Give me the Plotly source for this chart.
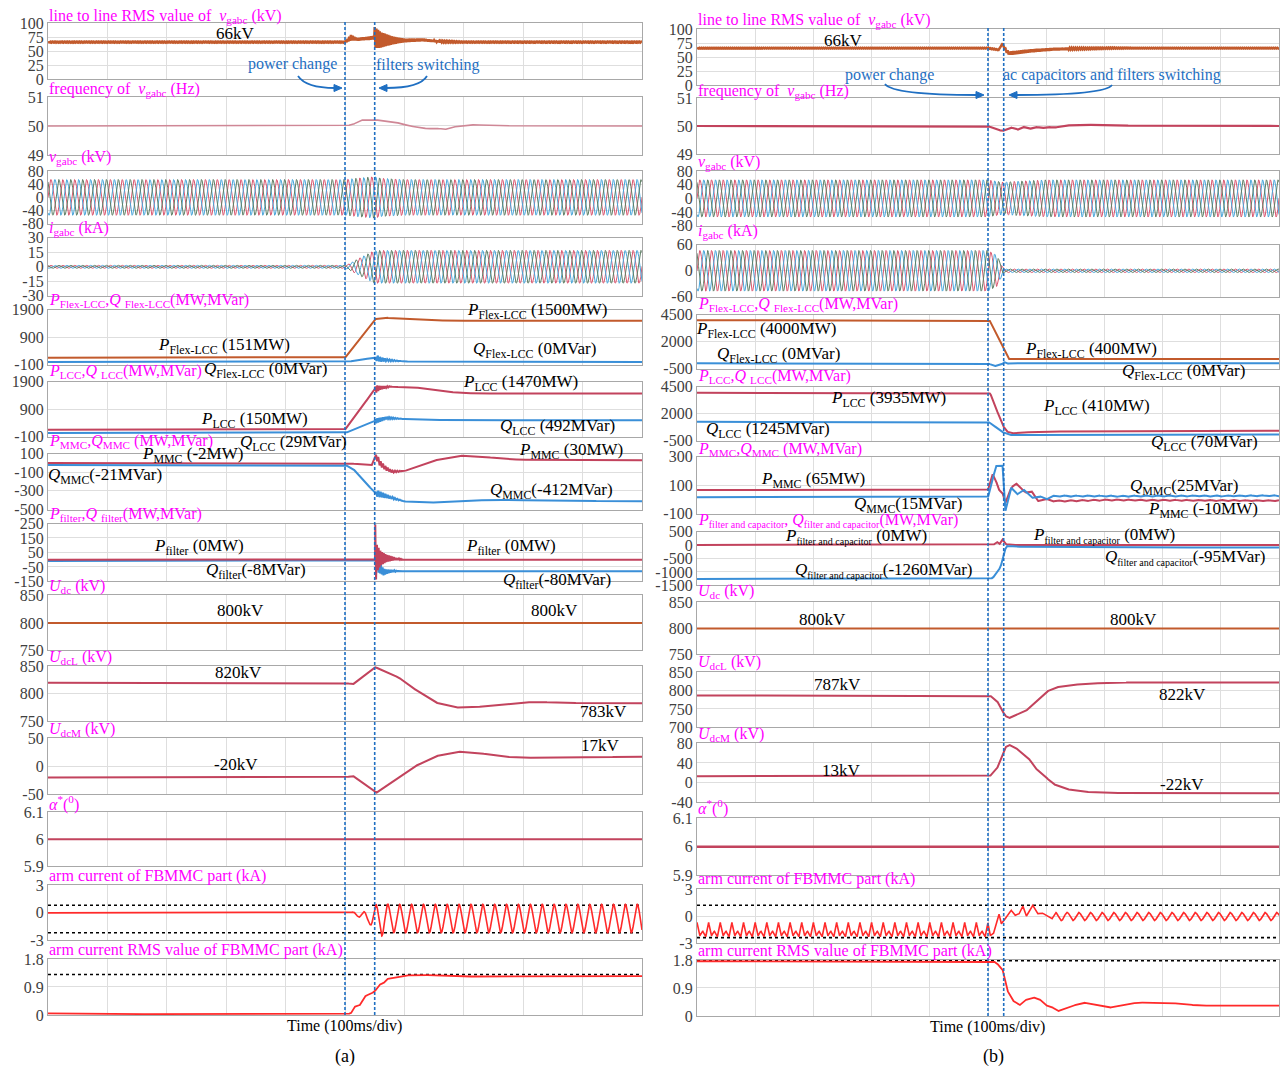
import numpy as np
import plotly.graph_objects as go

W, H = 1286, 1074
# vertical placement of the page as it is displayed: top offset and vertical squeeze
V_OFF = 8.0
V_SCALE = 1074.0 / 1090.0
SERIF = "Liberation Serif"

# ---------------------------------------------------------------- time base
t = np.linspace(0.0, 1.0, 6001)          # 1 s window, 100 ms/div
F_GRID = 50.0                            # Hz

EVENTS_A = [0.5, 0.55]                   # power change, filter switching
EVENTS_B = [0.5, 0.527]                  # power change, capacitor/filter switching

# ======================================================== case (a) data
A_RMS_T = [0, 0.5, 0.51, 0.52, 0.54, 0.55, 0.56, 0.58, 0.6, 0.63, 0.66, 0.7, 1.0]
A_RMS_V = [66, 66, 74, 71, 73, 74, 70, 69, 69, 70, 67, 66, 66]
A_RMS_RIP_T = [0, 0.5, 0.505, 0.51, 0.52, 0.549, 0.55, 0.56, 0.58, 0.6, 0.65, 0.7, 1.0]
A_RMS_RIP_A = [0.8, 0.8, 3, 5, 2, 3, 19, 14, 7, 3, 1.5, 0.8, 0.8]

A_FREQ_T = [0, 0.5, 0.513, 0.527, 0.548, 0.576, 0.594, 0.608, 0.625, 0.639, 0.653, 0.667,
            0.681, 0.695, 0.716, 0.737, 0.793, 1.0]
A_FREQ_V = [50, 50, 50.05, 50.2, 50.22, 50.15, 50.09, 50.0, 49.96, 49.9, 49.93, 49.87,
            49.96, 50.0, 50.04, 50.03, 50.0, 50.0]

A_VG_ENV_T = [0, 0.5, 0.52, 0.55, 0.56, 0.6, 1.0]
A_VG_ENV_A = [54, 54, 58, 63, 58, 54, 54]
A_IG_ENV_T = [0, 0.5, 0.55, 1.0]
A_IG_ENV_A = [1.5, 1.5, 17, 17]

A_PFLEX_T = [0, 0.5, 0.55, 0.569, 0.618, 0.688, 1.0]
A_PFLEX_V = [151, 151, 1560, 1610, 1535, 1500, 1500]
A_QFLEX_T = [0, 0.5, 0.53, 0.55, 0.56, 0.58, 0.6, 0.65, 1.0]
A_QFLEX_V = [0, 0, 80, 170, 90, 50, 20, 0, 0]
A_QFLEX_RIP_T = [0, 0.551, 0.553, 0.57, 0.6]
A_QFLEX_RIP_A = [0, 0, 110, 40, 0]

A_PLCC_T = [0, 0.5, 0.55, 0.56, 0.576, 0.6, 0.62, 0.653, 0.688, 0.723, 0.8, 1.0]
A_PLCC_V = [150, 150, 1620, 1680, 1720, 1700, 1690, 1580, 1500, 1465, 1480, 1470]
A_PLCC_RIP_T = [0, 0.549, 0.552, 0.56, 0.58]
A_PLCC_RIP_A = [0, 0, 140, 60, 0]
A_QLCC_T = [0, 0.5, 0.54, 0.55, 0.57, 0.6, 0.65, 1.0]
A_QLCC_V = [29, 29, 380, 460, 580, 545, 505, 492]
A_QLCC_RIP_T = [0, 0.549, 0.552, 0.57, 0.6]
A_QLCC_RIP_A = [0, 0, 90, 40, 0]

A_PMMC_T = [0, 0.5, 0.527, 0.545, 0.552, 0.559, 0.569, 0.58, 0.601, 0.618, 0.653, 0.695,
            0.723, 0.758, 0.793, 1.0]
A_PMMC_V = [-2, -2, -17, -24, 75, -5, -60, -94, -85, -48, 30, 78, 72, 48, 35, 30]
A_QMMC_T = [0, 0.5, 0.513, 0.527, 0.541, 0.55, 0.569, 0.59, 0.6, 0.639, 0.688, 0.758, 0.85, 1.0]
A_QMMC_V = [-21, -21, -60, -150, -255, -320, -355, -395, -412, -430, -405, -396, -405, -412]
A_MMC_RIP_T = [0, 0.551, 0.554, 0.575, 0.6]
A_MMC_RIP_A = [0, 0, 35, 15, 0]

A_PFIL_T = [0, 0.55, 0.553, 0.58, 0.6, 1.0]
A_PFIL_V = [0, 0, 10, 8, 0, 0]
A_PFIL_RIP_T = [0, 0.5505, 0.551, 0.553, 0.56, 0.57, 0.585, 0.6]
A_PFIL_RIP_A = [0, 0, 240, 100, 50, 25, 8, 0]
A_QFIL_T = [0, 0.55, 0.552, 0.556, 0.565, 0.58, 0.6, 1.0]
A_QFIL_V = [-8, -8, 10, -50, -85, -78, -80, -80]
A_QFIL_RIP_T = [0, 0.552, 0.555, 0.57, 0.59]
A_QFIL_RIP_A = [0, 0, 40, 15, 0]

A_UDC_T = [0, 1.0]
A_UDC_V = [800, 800]
A_UDCL_T = [0, 0.5, 0.513, 0.55, 0.59, 0.618, 0.653, 0.688, 0.723, 0.793, 0.83, 0.9, 1.0]
A_UDCL_V = [820, 820, 817, 849, 830, 808, 784, 775, 776, 784, 785, 783, 783]
A_UDCM_T = [0, 0.5, 0.513, 0.552, 0.59, 0.618, 0.653, 0.688, 0.723, 0.758, 0.793, 0.86, 1.0]
A_UDCM_V = [-20, -20, -17, -48, -20, 0, 18, 26, 24, 18, 15, 16, 17]
A_ALPHA_T = [0, 1.0]
A_ALPHA_V = [6, 6]

A_ARM_T = [0, 0.5, 0.512, 0.522, 0.532, 0.542, 0.552, 0.562, 0.58, 1.0]
A_ARM_OFFSET = [-0.03, -0.03, 0, -0.15, -0.45, -0.6, -0.7, -0.8, -0.65, -0.65]
A_ARM_AMP = [0, 0, 0.05, 0.3, 0.55, 0.7, 1.6, 1.75, 1.55, 1.55]
A_ARM_PEAK = 0.552
A_ARM_LIMITS = [0.8, -2.2]

A_ARMRMS_T = [0, 0.2, 0.4, 0.5, 0.51, 0.515, 0.52, 0.525, 0.53, 0.535, 0.54, 0.545, 0.55,
              0.555, 0.56, 0.565, 0.57, 0.575, 0.58, 0.59, 0.6, 0.62, 0.65, 0.7, 0.75, 0.8, 0.9, 1.0]
A_ARMRMS_V = [0.05, 0.02, 0.04, 0.03, 0.05, 0.25, 0.3, 0.32, 0.5, 0.62, 0.65, 0.7, 0.75,
              0.9, 1.0, 1.02, 1.15, 1.17, 1.2, 1.22, 1.27, 1.29, 1.28, 1.24, 1.23, 1.24, 1.25, 1.25]
A_ARMRMS_LIMIT = 1.3

# ======================================================== case (b) data
B_RMS_T = [0, 0.5, 0.518, 0.525, 0.53, 0.536, 0.547, 0.561, 0.582, 0.61, 0.645, 0.716, 1.0]
B_RMS_V = [66, 66, 63, 75, 62, 57, 58, 60, 62, 64, 65, 66, 66]
B_RMS_RIP_T = [0, 0.527, 0.53, 0.6, 0.7, 0.75, 1.0]
B_RMS_RIP_A = [0.8, 0.8, 3, 2, 1, 0.8, 0.8]

B_FREQ_T = [0, 0.5, 0.511, 0.525, 0.539, 0.55, 0.561, 0.571, 0.582, 0.592, 0.603, 0.614,
            0.631, 0.652, 0.681, 0.716, 0.786, 1.0]
B_FREQ_V = [50, 50, 49.9, 49.82, 49.95, 49.86, 49.97, 49.89, 49.97, 49.92, 49.97, 49.94,
            50.01, 50.04, 50.04, 50.02, 50.0, 50.0]

B_VG_ENV_T = [0, 0.5, 0.527, 0.55, 0.6, 1.0]
B_VG_ENV_A = [54, 54, 47, 50, 54, 54]
B_IG_ENV_T = [0, 0.5, 0.515, 0.527, 1.0]
B_IG_ENV_A = [47, 47, 36, 4, 4]

B_PFLEX_T = [0, 0.5, 0.503, 0.535, 1.0]
B_PFLEX_V = [4000, 4000, 3950, 400, 400]
B_QFLEX_T = [0, 0.5, 0.505, 0.512, 0.52, 0.526, 0.528, 0.533, 0.54, 1.0]
B_QFLEX_V = [0, 0, -120, -250, -150, -20, 120, -40, 0, 0]

B_PLCC_T = [0, 0.5, 0.504, 0.511, 0.518, 0.525, 0.532, 0.54, 0.56, 0.6, 0.7, 1.0]
B_PLCC_V = [3935, 3935, 3850, 2950, 1880, 950, 350, 180, 250, 330, 400, 410]
B_QLCC_T = [0, 0.5, 0.508, 0.518, 0.525, 0.536, 0.554, 0.582, 0.61, 1.0]
B_QLCC_V = [1245, 1245, 1000, 540, 290, 40, -10, 40, 60, 70]

B_PMMC_T = [0, 0.5, 0.508, 0.513, 0.518, 0.525, 0.53, 0.534, 0.54, 0.548, 0.557, 0.564,
            0.575, 0.585, 0.6, 0.61, 0.7, 1.0]
B_PMMC_V = [65, 65, 175, 140, 70, 46, -25, 22, 81, 112, 81, 46, 57, -13, 4, -13, -5, -10]
B_QMMC_T = [0, 0.5, 0.506, 0.513, 0.525, 0.53, 0.54, 0.55, 0.561, 0.575, 0.589, 0.6, 0.61, 0.7, 1.0]
B_QMMC_V = [15, 15, 100, 234, 235, -80, 81, 34, 69, 10, 22, -1, 22, 22, 25]
B_MMC_RIP_T = [0, 0.6, 0.62, 1.0]
B_MMC_RIP_A = [0, 0, 5, 4]

B_PFIL_T = [0, 0.5, 0.51, 0.515, 0.52, 0.525, 0.53, 0.54, 1.0]
B_PFIL_V = [0, 0, 20, 120, 40, 200, 30, 0, 0]
B_QFIL_T = [0, 0.5, 0.508, 0.515, 0.522, 0.527, 0.532, 0.54, 0.6, 1.0]
B_QFIL_V = [-1260, -1260, -1225, -1040, -800, -300, -30, -55, -80, -95]

B_UDC_T = [0, 1.0]
B_UDC_V = [800, 800]
B_UDCL_T = [0, 0.5, 0.504, 0.515, 0.522, 0.529, 0.536, 0.547, 0.564, 0.575, 0.585, 0.6,
            0.617, 0.638, 0.68, 0.751, 1.0]
B_UDCL_V = [787, 787, 786, 773, 755, 732, 725, 732, 743, 759, 773, 797, 809, 815, 820, 823, 822]
B_UDCM_T = [0, 0.5, 0.504, 0.515, 0.522, 0.529, 0.536, 0.547, 0.558, 0.569, 0.58, 0.594,
            0.612, 0.634, 0.662, 0.718, 0.82, 1.0]
B_UDCM_V = [13, 13, 14, 27, 48, 71, 77, 71, 61, 51, 31, 17, -3, -13, -19, -21, -22, -22]
B_ALPHA_T = [0, 1.0]
B_ALPHA_V = [6, 6]

B_ARM_PRE_SHAPE = [-0.7, -1.6, -2.2, -1.8, -1.7, -2.0, -2.3, -1.6]   # one 20 ms cycle
B_ARM_TRANS_T = [0.5, 0.504, 0.509, 0.516, 0.519, 0.523, 0.528, 0.535, 0.54, 0.546, 0.553,
                 0.56, 0.566, 0.577, 0.585, 0.593, 0.602, 0.61, 0.616]
B_ARM_TRANS_V = [-0.85, -2.15, -2.0, -0.67, 0.2, -0.85, -0.5, 0.26, 0.63, 0.07, 0.2,
                 1.1, 0.0, 1.2, 0.26, 0.35, 0.0, -0.3, 0.4]
B_ARM_POST_OFFSET = -0.05
B_ARM_POST_AMP = 0.45
B_ARM_POST_PEAK = 0.616
B_ARM_LIMITS = [1.2, -2.4]

B_ARMRMS_T = [0, 0.5, 0.51, 0.515, 0.52, 0.525, 0.532, 0.542, 0.554, 0.563, 0.577, 0.588,
              0.599, 0.609, 0.62, 0.637, 0.665, 0.687, 0.708, 0.729, 0.757, 0.8, 0.827, 0.863, 1.0]
B_ARMRMS_V = [1.76, 1.76, 1.75, 1.7, 1.6, 1.5, 0.87, 0.5, 0.34, 0.5, 0.6, 0.55,
              0.34, 0.3, 0.15, 0.28, 0.43, 0.35, 0.26, 0.35, 0.43, 0.43, 0.4, 0.33, 0.33]
B_ARMRMS_LIMIT = 1.78

# ---------------------------------------------------------------- colours
C_RUST = "#c25a2c"
C_ROSE = "#c2435d"
C_BLUE = "#3a8fd8"
C_FREQ_A = "#cf8796"
C_ARM = "#ff2a2a"
C_PH = ["#d9566f", "#4aa6da", "#5f7f66"]
C_EVENT = "#1f6fc2"
C_MAG = "#ff00ff"


# ---------------------------------------------------------------- helpers
def keyed(kt, kv):
    return np.interp(t, kt, kv)


def rippled(kt, kv, rt, ra, freq, t0):
    return keyed(kt, kv) + np.interp(t, rt, ra) * np.cos(2 * np.pi * freq * (t - t0))


def three_phase(et, ea):
    amp = np.interp(t, et, ea)
    return [amp * np.sin(2 * np.pi * F_GRID * t - k * 2 * np.pi / 3) for k in range(3)]


def tiled(shape, period):
    ph = (t % period) / period
    xs = np.linspace(0, 1, len(shape) + 1)
    return np.interp(ph, xs, list(shape) + [shape[0]])


# case (a) arm current
a_arm = keyed(A_ARM_T, A_ARM_OFFSET) + keyed(A_ARM_T, A_ARM_AMP) * np.cos(
    2 * np.pi * F_GRID * (t - A_ARM_PEAK))
# case (b) arm current
b_arm_pre = tiled(B_ARM_PRE_SHAPE, 1 / F_GRID)
b_arm_trans = np.interp(t, B_ARM_TRANS_T, B_ARM_TRANS_V)
b_arm_post = B_ARM_POST_OFFSET + B_ARM_POST_AMP * np.cos(2 * np.pi * F_GRID * (t - B_ARM_POST_PEAK))
b_arm = np.where(t < B_ARM_TRANS_T[0], b_arm_pre,
                 np.where(t <= B_ARM_TRANS_T[-1], b_arm_trans, b_arm_post))

flat = lambda v: np.full_like(t, v)

# each panel: (y range, tick values, [(y, colour, width, dash)])
PANELS_A = [
    ([0, 100], [0, 25, 50, 75, 100],
     [(rippled(A_RMS_T, A_RMS_V, A_RMS_RIP_T, A_RMS_RIP_A, 350, 0.55), C_RUST, 2.5, None)]),
    ([49, 51], [49, 50, 51], [(keyed(A_FREQ_T, A_FREQ_V), C_FREQ_A, 1.6, None)]),
    ([-80, 80], [-80, -40, 0, 40, 80],
     [(y, c, 1.0, None) for y, c in zip(three_phase(A_VG_ENV_T, A_VG_ENV_A), C_PH)]),
    ([-30, 30], [-30, -15, 0, 15, 30],
     [(y, c, 1.0, None) for y, c in zip(three_phase(A_IG_ENV_T, A_IG_ENV_A), C_PH)]),
    ([-100, 1900], [-100, 900, 1900],
     [(keyed(A_PFLEX_T, A_PFLEX_V), C_RUST, 2.0, None),
      (rippled(A_QFLEX_T, A_QFLEX_V, A_QFLEX_RIP_T, A_QFLEX_RIP_A, 250, 0.551), C_BLUE, 2.0, None)]),
    ([-100, 1900], [-100, 900, 1900],
     [(rippled(A_PLCC_T, A_PLCC_V, A_PLCC_RIP_T, A_PLCC_RIP_A, 300, 0.551), C_ROSE, 2.0, None),
      (rippled(A_QLCC_T, A_QLCC_V, A_QLCC_RIP_T, A_QLCC_RIP_A, 300, 0.551), C_BLUE, 2.0, None)]),
    ([-500, 100], [-500, -300, -100, 100],
     [(rippled(A_PMMC_T, A_PMMC_V, A_MMC_RIP_T, A_MMC_RIP_A, 250, 0.552), C_ROSE, 2.0, None),
      (rippled(A_QMMC_T, A_QMMC_V, A_MMC_RIP_T, A_MMC_RIP_A, 250, 0.552), C_BLUE, 2.0, None)]),
    ([-150, 250], [-150, -50, 50, 150, 250],
     [(rippled(A_QFIL_T, A_QFIL_V, A_QFIL_RIP_T, A_QFIL_RIP_A, 350, 0.552), C_BLUE, 2.0, None),
      (rippled(A_PFIL_T, A_PFIL_V, A_PFIL_RIP_T, A_PFIL_RIP_A, 350, 0.551), C_ROSE, 2.0, None)]),
    ([750, 850], [750, 800, 850], [(keyed(A_UDC_T, A_UDC_V), C_RUST, 2.0, None)]),
    ([750, 850], [750, 800, 850], [(keyed(A_UDCL_T, A_UDCL_V), C_ROSE, 2.0, None)]),
    ([-50, 50], [-50, 0, 50], [(keyed(A_UDCM_T, A_UDCM_V), C_ROSE, 2.0, None)]),
    ([5.9, 6.1], [5.9, 6, 6.1], [(keyed(A_ALPHA_T, A_ALPHA_V), C_ROSE, 2.0, None)]),
    ([-3, 3], [-3, 0, 3],
     [(flat(A_ARM_LIMITS[0]), "black", 1.6, "dot"), (flat(A_ARM_LIMITS[1]), "black", 1.6, "dot"),
      (a_arm, C_ARM, 1.6, None)]),
    ([0, 1.8], [0, 0.9, 1.8],
     [(flat(A_ARMRMS_LIMIT), "black", 1.6, "dot"), (keyed(A_ARMRMS_T, A_ARMRMS_V), C_ARM, 1.8, None)]),
]

PANELS_B = [
    ([0, 100], [0, 25, 50, 75, 100],
     [(rippled(B_RMS_T, B_RMS_V, B_RMS_RIP_T, B_RMS_RIP_A, 300, 0.527), C_RUST, 2.5, None)]),
    ([49, 51], [49, 50, 51], [(keyed(B_FREQ_T, B_FREQ_V), C_ROSE, 2.2, None)]),
    ([-80, 80], [-80, -40, 0, 40, 80],
     [(y, c, 1.0, None) for y, c in zip(three_phase(B_VG_ENV_T, B_VG_ENV_A), C_PH)]),
    ([-60, 60], [-60, 0, 60],
     [(y, c, 1.0, None) for y, c in zip(three_phase(B_IG_ENV_T, B_IG_ENV_A), C_PH)]),
    ([-500, 4500], [-500, 2000, 4500],
     [(keyed(B_PFLEX_T, B_PFLEX_V), C_RUST, 2.0, None), (keyed(B_QFLEX_T, B_QFLEX_V), C_BLUE, 2.0, None)]),
    ([-500, 4500], [-500, 2000, 4500],
     [(keyed(B_PLCC_T, B_PLCC_V), C_ROSE, 2.0, None), (keyed(B_QLCC_T, B_QLCC_V), C_BLUE, 2.0, None)]),
    ([-100, 300], [-100, 100, 300],
     [(rippled(B_PMMC_T, B_PMMC_V, B_MMC_RIP_T, B_MMC_RIP_A, F_GRID, 0.6), C_ROSE, 2.0, None),
      (rippled(B_QMMC_T, B_QMMC_V, B_MMC_RIP_T, B_MMC_RIP_A, F_GRID, 0.61), C_BLUE, 2.0, None)]),
    ([-1500, 500], [-1500, -1000, -500, 0, 500],
     [(keyed(B_PFIL_T, B_PFIL_V), C_ROSE, 2.0, None), (keyed(B_QFIL_T, B_QFIL_V), C_BLUE, 2.0, None)]),
    ([750, 850], [750, 800, 850], [(keyed(B_UDC_T, B_UDC_V), C_RUST, 2.0, None)]),
    ([700, 850], [700, 750, 800, 850], [(keyed(B_UDCL_T, B_UDCL_V), C_ROSE, 2.0, None)]),
    ([-40, 80], [-40, 0, 40, 80], [(keyed(B_UDCM_T, B_UDCM_V), C_ROSE, 2.0, None)]),
    ([5.9, 6.1], [5.9, 6, 6.1], [(keyed(B_ALPHA_T, B_ALPHA_V), C_ROSE, 2.5, None)]),
    ([-3, 3], [-3, 0, 3],
     [(flat(B_ARM_LIMITS[0]), "black", 1.6, "dot"), (flat(B_ARM_LIMITS[1]), "black", 1.6, "dot"),
      (b_arm, C_ARM, 1.6, None)]),
    ([0, 1.8], [0, 0.9, 1.8],
     [(flat(B_ARMRMS_LIMIT), "black", 1.6, "dot"), (keyed(B_ARMRMS_T, B_ARMRMS_V), C_ARM, 1.8, None)]),
]

FC = '<span style="font-size:10px">filter and capacitor</span>'   # long subscript, drawn small

TITLES_A = [
    "line to line RMS value of  <i>v</i><sub>gabc</sub> (kV)",
    "frequency of  <i>v</i><sub>gabc</sub> (Hz)",
    "<i>v</i><sub>gabc</sub> (kV)",
    "<i>i</i><sub>gabc</sub> (kA)",
    "<i>P</i><sub>Flex-LCC</sub>,<i>Q</i> <sub>Flex-LCC</sub>(MW,MVar)",
    "<i>P</i><sub>LCC</sub>,<i>Q</i> <sub>LCC</sub>(MW,MVar)",
    "<i>P</i><sub>MMC</sub>,<i>Q</i><sub>MMC</sub> (MW,MVar)",
    "<i>P</i><sub>filter</sub>,<i>Q</i> <sub>filter</sub>(MW,MVar)",
    "<i>U</i><sub>dc</sub> (kV)",
    "<i>U</i><sub>dcL</sub> (kV)",
    "<i>U</i><sub>dcM</sub> (kV)",
    "<i>α</i><sup>*</sup>(<sup>0</sup>)",
    "arm current of FBMMC part (kA)",
    "arm current RMS value of FBMMC part (kA)",
]
TITLES_B = list(TITLES_A)
TITLES_B[7] = "<i>P</i><sub>%s</sub>, <i>Q</i><sub>%s</sub>(MW,MVar)" % (FC, FC)

NOTES_A = [
    ("66kV", 235, 33), ("<i>P</i><sub>Flex-LCC</sub> (1500MW)", 537, 311),
    ("<i>P</i><sub>Flex-LCC</sub> (151MW)", 224, 346), ("<i>Q</i><sub>Flex-LCC</sub> (0MVar)", 534, 350),
    ("<i>Q</i><sub>Flex-LCC</sub> (0MVar)", 265, 370), ("<i>P</i><sub>LCC</sub> (1470MW)", 520, 383),
    ("<i>P</i><sub>LCC</sub> (150MW)", 254, 420), ("<i>Q</i><sub>LCC</sub> (492MVar)", 557, 427),
    ("<i>Q</i><sub>LCC</sub> (29MVar)", 293, 443), ("<i>P</i><sub>MMC</sub> (-2MW)", 192, 455),
    ("<i>P</i><sub>MMC</sub> (30MW)", 571, 451), ("<i>Q</i><sub>MMC</sub>(-21MVar)", 105, 476),
    ("<i>Q</i><sub>MMC</sub>(-412MVar)", 551, 491), ("<i>P</i><sub>filter</sub> (0MW)", 199, 548),
    ("<i>P</i><sub>filter</sub> (0MW)", 511, 548), ("<i>Q</i><sub>filter</sub>(-8MVar)", 256, 572),
    ("<i>Q</i><sub>filter</sub>(-80MVar)", 557, 582), ("800kV", 240, 611), ("800kV", 554, 611),
    ("820kV", 238, 673), ("783kV", 603, 712), ("-20kV", 236, 765), ("17kV", 600, 746),
]
NOTES_B = [
    ("66kV", 843, 40), ("<i>P</i><sub>Flex-LCC</sub> (4000MW)", 766, 330),
    ("<i>Q</i><sub>Flex-LCC</sub> (0MVar)", 778, 355), ("<i>P</i><sub>Flex-LCC</sub> (400MW)", 1091, 350),
    ("<i>Q</i><sub>Flex-LCC</sub> (0MVar)", 1183, 372), ("<i>P</i><sub>LCC</sub> (3935MW)", 888, 399),
    ("<i>Q</i><sub>LCC</sub> (1245MVar)", 768, 430), ("<i>P</i><sub>LCC</sub> (410MW)", 1096, 407),
    ("<i>Q</i><sub>LCC</sub> (70MVar)", 1204, 443), ("<i>P</i><sub>MMC</sub> (65MW)", 813, 480),
    ("<i>Q</i><sub>MMC</sub>(15MVar)", 908, 505), ("<i>Q</i><sub>MMC</sub>(25MVar)", 1184, 487),
    ("<i>P</i><sub>MMC</sub> (-10MW)", 1203, 510),
    ("<i>P</i><sub>%s</sub> (0MW)" % FC, 856, 537),
    ("<i>P</i><sub>%s</sub> (0MW)" % FC, 1104, 536),
    ("<i>Q</i><sub>%s</sub>(-1260MVar)" % FC, 884, 571),
    ("<i>Q</i><sub>%s</sub>(-95MVar)" % FC, 1185, 558),
    ("800kV", 822, 620), ("800kV", 1133, 620), ("787kV", 837, 685), ("822kV", 1182, 695),
    ("13kV", 842, 771), ("-22kV", 1182, 785),
]

# ---------------------------------------------------------------- page geometry (px on the page)
COL_X = [(48, 642), (697, 1279)]
TOPS = [[23, 97, 171, 238, 310, 382, 454, 524, 596, 667, 739, 813, 886, 960],
        [29, 98, 171, 245, 315, 387, 457, 532, 603, 673, 744, 819, 890, 961]]
BOTS = [[79, 155, 224, 296, 365, 437, 510, 582, 651, 722, 795, 867, 941, 1016],
        [85, 154, 226, 297, 369, 441, 514, 586, 655, 728, 803, 876, 944, 1017]]
TITLE_Y = [[11, 89, 158, 229, 301, 372, 442, 515, 587, 658, 730, 804, 877, 951],
           [20, 91, 163, 232, 305, 377, 450, 521, 592, 663, 735, 808, 880, 952]]


def px(x):
    return min(1.0, x / W)


def fig_y(y):
    return y / V_SCALE - V_OFF


def py(y, floor=None):
    fy = fig_y(y)
    if floor is not None:
        fy = max(fy, floor)
    return min(1.0, max(0.0, 1 - fy / H))


fig = go.Figure()
layout = dict(width=W, height=H, margin=dict(l=0, r=0, t=0, b=0),
              paper_bgcolor="white", plot_bgcolor="white", showlegend=False,
              font=dict(family=SERIF, color="black"))
annotations, shapes = [], []

for col, (panels, titles) in enumerate([(PANELS_A, TITLES_A), (PANELS_B, TITLES_B)]):
    x0, x1 = COL_X[col]
    for k, (yr, ticks, series) in enumerate(panels):
        n = col * 14 + k + 1
        sfx = "" if n == 1 else str(n)
        layout["xaxis" + sfx] = dict(
            domain=[px(x0), px(x1)], range=[0, 1], anchor="y" + sfx,
            tickvals=[i / 10 for i in range(1, 10)], showticklabels=False, ticks="",
            showgrid=True, gridcolor="#dedede", gridwidth=1, zeroline=False,
            showline=True, mirror=True, linecolor="#a8a8a8", linewidth=1.2)
        layout["yaxis" + sfx] = dict(
            domain=[py(BOTS[col][k]), py(TOPS[col][k])], range=yr, anchor="x" + sfx,
            tickvals=ticks, ticktext=[("%g" % v) for v in ticks], ticks="",
            tickfont=dict(family=SERIF, size=16, color="#404040"),
            showgrid=True, gridcolor="#dedede", gridwidth=1, zeroline=False,
            showline=True, mirror=True, linecolor="#a8a8a8", linewidth=1.2)
        for y, c, w, d in series:
            fig.add_trace(go.Scatter(x=t, y=y, mode="lines", xaxis="x" + sfx, yaxis="y" + sfx,
                                     line=dict(color=c, width=w, dash=d), hoverinfo="skip"))
        annotations.append(dict(text=titles[k], x=px(x0 - 1), y=py(TITLE_Y[col][k], floor=8.5),
                                xref="paper", yref="paper", xanchor="left", yanchor="middle",
                                showarrow=False, font=dict(family=SERIF, size=16, color=C_MAG)))

# event markers spanning all panels of a column
for col, (events, xa) in enumerate([(EVENTS_A, "x"), (EVENTS_B, "x15")]):
    for ev in events:
        shapes.append(dict(type="line", xref=xa, yref="paper", x0=ev, x1=ev,
                           y0=py(BOTS[col][-1]), y1=py(TOPS[col][0] - 1),
                           line=dict(color=C_EVENT, width=1.6, dash="3px,2px")))

for text, x, y in NOTES_A + NOTES_B:
    annotations.append(dict(text=text, x=px(x), y=py(y), xref="paper", yref="paper",
                            xanchor="center", yanchor="middle", showarrow=False,
                            font=dict(family=SERIF, size=17, color="black")))

# event captions with curved arrows
for text, x, y in [("power change", 292, 64), ("filters switching", 428, 65),
                   ("power change", 889, 75), ("ac capacitors and filters switching", 1112, 75)]:
    annotations.append(dict(text=text, x=px(x), y=py(y), xref="paper", yref="paper",
                            xanchor="center", yanchor="middle", showarrow=False,
                            font=dict(family=SERIF, size=16, color=C_EVENT)))


def curved_arrow(sx, sy, cx, cy, ex, ey, direction):
    path = "M %f,%f Q %f,%f %f,%f" % (px(sx), py(sy), px(cx), py(cy), px(ex), py(ey))
    shapes.append(dict(type="path", path=path, xref="paper", yref="paper",
                       line=dict(color=C_EVENT, width=1.8)))
    tip = ex + 7 * direction
    head = "M %f,%f L %f,%f L %f,%f Z" % (px(tip), py(ey), px(ex - 1 * direction), py(ey - 3.5),
                                          px(ex - 1 * direction), py(ey + 3.5))
    shapes.append(dict(type="path", path=head, xref="paper", yref="paper",
                       fillcolor=C_EVENT, line=dict(color=C_EVENT, width=1)))


curved_arrow(298, 76, 306, 88, 335, 88, +1)
curved_arrow(427, 76, 420, 88, 386, 88, -1)
curved_arrow(885, 84, 893, 95, 977, 95, +1)
curved_arrow(1112, 85, 1105, 95, 1016, 95, -1)

for text, x, y, s in [("Time (100ms/div)", 344, 1027, 16), ("(a)", 345, 1058, 18),
                      ("Time (100ms/div)", 987, 1028, 16), ("(b)", 993, 1058, 18)]:
    annotations.append(dict(text=text, x=px(x), y=py(y), xref="paper", yref="paper",
                            xanchor="center", yanchor="middle", showarrow=False,
                            font=dict(family=SERIF, size=s, color="black")))

layout["annotations"] = annotations
layout["shapes"] = shapes
fig.update_layout(**layout)
fig.write_html("out.html", config={"displayModeBar": False})
